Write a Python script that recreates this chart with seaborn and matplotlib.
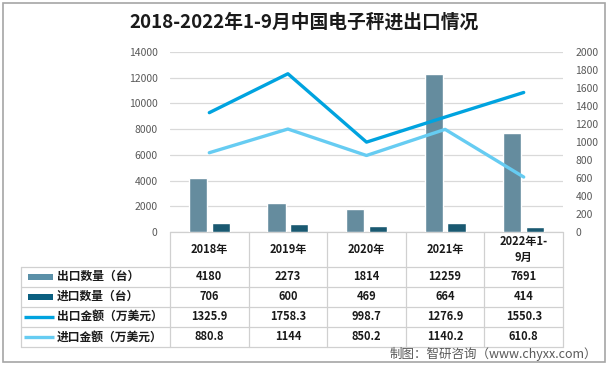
import pandas as pd
import matplotlib.pyplot as plt
import matplotlib.transforms as mtransforms
import seaborn as sns

# Data
years = ['2018年', '2019年', '2020年', '2021年', '2022年1-\n9月']
export_qty = [4180, 2273, 1814, 12259, 7691]
import_qty = [706, 600, 469, 664, 414]
export_amt = [1325.9, 1758.3, 998.7, 1276.9, 1550.3]
import_amt = [880.8, 1144, 850.2, 1140.2, 610.8]
bar_names = ['出口数量（台）', '进口数量（台）']
line_names = ['出口金额（万美元）', '进口金额（万美元）']
export_amt_txt = ['1325.9', '1758.3', '998.7', '1276.9', '1550.3']
import_amt_txt = ['880.8', '1144', '850.2', '1140.2', '610.8']

bar_colors = ['#5B90A8', '#0B5F80']
line_colors = ['#00A3DF', '#66CCF2']
grid_c = '#D9D9D9'
text_c = '#595959'

bars_df = pd.DataFrame({
    'year': years * 2,
    'series': [bar_names[0]] * 5 + [bar_names[1]] * 5,
    'value': export_qty + import_qty,
})
lines_df = pd.DataFrame({
    'pos': list(range(5)) * 2,
    'series': [line_names[0]] * 5 + [line_names[1]] * 5,
    'value': export_amt + import_amt,
})

sns.set_style('white')
plt.rcParams['font.family'] = ['Noto Sans CJK SC', 'DejaVu Sans']

W, H = 610, 367
fig = plt.figure(figsize=(W / 100, H / 100), dpi=100)

# overlay in pixel coords for table, title, border
tab = fig.add_axes([0, 0, 1, 1], zorder=0)
tab.set_xlim(0, W)
tab.set_ylim(H, 0)
tab.axis('off')

ax = fig.add_axes([170 / W, 1 - 232 / H, 393 / W, 180 / H], zorder=2)
ax.patch.set_alpha(0)

sns.barplot(data=bars_df, x='year', y='value', hue='series', palette=bar_colors,
            width=0.58, gap=0.2, errorbar=None, legend=False, ax=ax, zorder=3)
ax.set_ylim(0, 14000)
ax.set_yticks(range(0, 14001, 2000))
ax.yaxis.grid(True, color=grid_c, lw=0.9)
ax.set_axisbelow(True)
ax.set_xlabel('')
ax.set_ylabel('')
ax.set_xticks([])
ax.tick_params(axis='y', length=0, pad=9, labelsize=7.5, labelcolor=text_c)
for s in ax.spines.values():
    s.set_visible(False)

ax2 = ax.twinx()
sns.lineplot(data=lines_df, x='pos', y='value', hue='series', palette=line_colors,
             linewidth=2.4, legend=False, ax=ax2)
ax2.set_ylim(0, 2000)
ax2.set_yticks(range(0, 2001, 200))
ax2.set_xlabel('')
ax2.set_ylabel('')
ax2.tick_params(axis='y', length=0, pad=9, labelsize=7.5, labelcolor=text_c)
for t in ax2.get_yticklabels():
    t.set_horizontalalignment('left')
for s in ax2.spines.values():
    s.set_visible(False)
ax.set_xlim(-0.5, 4.5)

# title
tab.text(304, 22, '2018-2022年1-9月中国电子秤进出口情况', ha='center', va='center',
         fontsize=13.5, fontweight='bold', color='#1a1a1a')

# data table
tr = mtransforms.blended_transform_factory(ax.transData, tab.transData)
line_c = '#D0D0D0'
row_y = [232, 266.5, 286.5, 306.5, 327, 347]
tab.plot([-0.5, 4.5], [232, 232], color=line_c, lw=0.9, transform=tr)
for i in range(6):
    tab.plot([i - 0.5, i - 0.5], [232, 347], color=line_c, lw=0.9, transform=tr)
for y in row_y[1:]:
    tab.plot([21, 563], [y, y], color=line_c, lw=0.9)
tab.plot([21, 21], [266.5, 347], color=line_c, lw=0.9)

for i, yr in enumerate(years):
    tab.text(i, 249.5, yr, ha='center', va='center', fontsize=8, fontweight='bold',
             color='#1a1a1a', linespacing=1.25, transform=tr)

rows = [
    (bar_names[0], [str(v) for v in export_qty], 'bar', bar_colors[0]),
    (bar_names[1], [str(v) for v in import_qty], 'bar', bar_colors[1]),
    (line_names[0], export_amt_txt, 'line', line_colors[0]),
    (line_names[1], import_amt_txt, 'line', line_colors[1]),
]
for r, (name, vals, kind, c) in enumerate(rows):
    yc = (row_y[r + 1] + row_y[r + 2]) / 2
    if kind == 'bar':
        tab.add_patch(plt.Rectangle((28, yc - 3), 25, 6, color=c, lw=0))
    else:
        tab.plot([24, 54], [yc, yc], color=c, lw=2.4, solid_capstyle='butt')
    tab.text(57, yc, name, ha='left', va='center', fontsize=8.5, fontweight='bold',
             color='#1a1a1a')
    for i, v in enumerate(vals):
        tab.text(i, yc, v, ha='center', va='center', fontsize=8, fontweight='bold',
                 color='#1a1a1a', transform=tr)

# footer
tab.text(597, 354, '制图：智研咨询（www.chyxx.com）', ha='right', va='center',
         fontsize=9, color=text_c)

# outer border
tab.add_patch(plt.Rectangle((2.5, 2.5), 602, 359, fill=False, ec='#A6A6A6', lw=1.2))

fig.savefig('out.png', dpi=100)
